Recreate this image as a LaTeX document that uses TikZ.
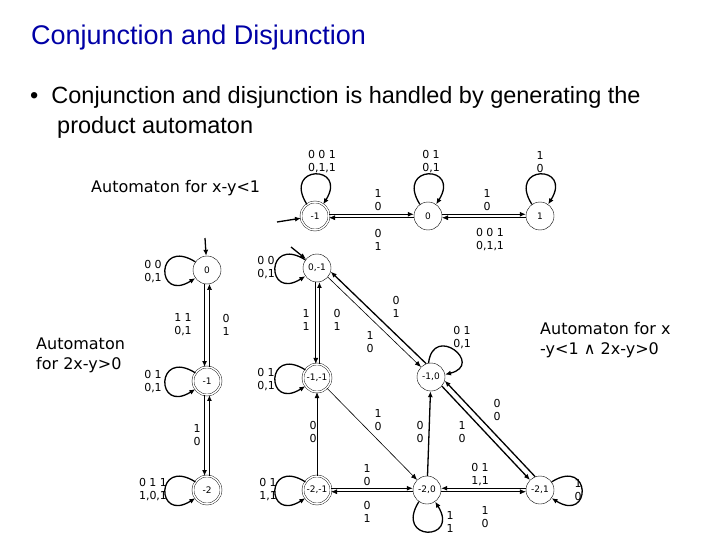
\documentclass[tikz,border=0pt]{standalone}
\usepackage{fontspec}
\setmainfont{Liberation Sans}
\newfontfamily\dv{DejaVu Sans}
\usetikzlibrary{arrows.meta}
\begin{document}
\begin{tikzpicture}[x=1pt,y=-1pt,
 st/.style={circle,draw,minimum size=28pt,inner sep=0pt,font=\dv\fontsize{9}{10}\selectfont},
 acc/.style={st,double,double distance=1.5pt},
 lb/.style={font=\dv\fontsize{11}{13}\selectfont,align=center,inner sep=0pt},
 tx/.style={font=\dv\fontsize{16}{20}\selectfont,align=left,inner sep=0pt,anchor=west},
 ar/.style={-{Latex[length=6pt,width=5pt]},line width=0.6pt},
 ab/.style={ar,line width=1.3pt}]
\useasboundingbox (0,0) rectangle (720,540);
\node[anchor=west,text=blue!65!black,font=\fontsize{27}{32}\selectfont,inner sep=0pt] (title) at (31,38) {Conjunction and Disjunction};
\node[anchor=west,font=\fontsize{23.5}{30}\selectfont,align=left,inner sep=0pt] (bul) at (30,112) {•\hspace{13pt}Conjunction and disjunction is handled by generating the\\\hspace{27pt}product automaton};
% top automaton
\node[acc] (a1) at (315,216) {-1};
\node[st] (a0) at (428,216) {0};
\node[st] (ap) at (540,216) {1};
\coordinate (ai) at (277,222);
\draw[ab] (ai) -- (a1);
\draw[ab] (a1.7) -- (a0.173); \draw[ar] (a0.187) -- (a1.353);
\draw[ab] (a0.7) -- (ap.173); \draw[ar] (ap.187) -- (a0.353);
\foreach \n in {a1,a0,ap} \draw[ab] (\n.125) .. controls +(-25,-40) and +(25,-40) .. (\n.55);
\node[lb] (l1) at (322,162) {0 0 1\\0,1,1};
\node[lb] (l2) at (431,162) {0 1\\0,1};
\node[lb] (l3) at (540,162) {1\\0};
\node[lb] (l4) at (378,200) {1\\0};
\node[lb] (l5) at (378,240) {0\\1};
\node[lb] (l6) at (487,200) {1\\0};
\node[lb] (l7) at (490,240) {0 0 1\\0,1,1};
\node[tx] (t1) at (91,188) {Automaton for x-y<1};
% left automaton
\node[st] (b0) at (207,270) {0};
\node[acc] (b1) at (207,381) {-1};
\node[acc] (b2) at (207,490) {-2};
\coordinate (bi) at (205,238);
\draw[ab] (bi) -- (b0);
\draw[ab] (b0.260) -- (b1.100); \draw[ar] (b1.80) -- (b0.280);
\draw[ab] (b1.260) -- (b2.100); \draw[ab] (b2.80) -- (b1.280);
\foreach \n in {b0,b1,b2} \draw[ab] (\n.145) .. controls +(-40,-25) and +(-40,25) .. (\n.215);
\node[lb] (m1) at (153,272) {0 0\\0,1};
\node[lb] (m2) at (153,382) {0 1\\0,1};
\node[lb] (m3) at (153,490) {0 1 1\\1,0,1};
\node[lb] (m4) at (183,325) {1 1\\0,1};
\node[lb] (m5) at (226,325) {0\\1};
\node[lb] (m6) at (197,435) {1\\0};
\node[tx] (t2) at (36,355) {Automaton\\for 2x-y>0};
% product
\node[st] (p1) at (317,268) {0,-1};
\node[acc] (p2) at (317,378) {-1,-1};
\node[acc] (p3) at (317,490) {-2,-1};
\node[st] (p4) at (431,377) {-1,0};
\node[st] (p5) at (427,490) {-2,0};
\node[st] (p6) at (540,490) {-2,1};
\coordinate (pi) at (291,247);
\draw[ab] (pi) -- (p1);
\foreach \n in {p1,p2,p3} \draw[ab] (\n.145) .. controls +(-40,-25) and +(-40,25) .. (\n.215);
\draw[ar] (p1.265) -- (p2.95); \draw[ab] (p2.80) -- (p1.280);
\draw[ar] (p3) -- (p2);
\draw[ar] (p1.320) -- (p4.135); \draw[ab] (p4.110) -- (p1.345);
\draw[ar] (p2) -- (p5);
\draw[ab] (p3.7) -- (p5.173); \draw[ar] (p5.187) -- (p3.353);
\draw[ab] (p5) -- (p4);
\draw[ab] (p4.320) -- (p6.135); \draw[ab] (p6.110) -- (p4.345);
\draw[ab] (p6.173) -- (p5.7); \draw[ar] (p5.353) -- (p6.187);
\draw[ab] (p4.100) .. controls +(5,-40) and +(40,-10) .. (p4.10);
\draw[ab] (p5.235) .. controls +(-25,40) and +(25,40) .. (p5.305);
\draw[ab] (p6.35) .. controls +(40,-25) and +(40,25) .. (p6.325);
\node[lb] (q1) at (266,268) {0 0\\0,1};
\node[lb] (q2) at (266,380) {0 1\\0,1};
\node[lb] (q3) at (268,490) {0 1\\1,1};
\node[lb] (q4) at (306,320) {1\\1};
\node[lb] (q5) at (337,320) {0\\1};
\node[lb] (q6) at (313,432) {0\\0};
\node[lb] (q7) at (370,342) {1\\0};
\node[lb] (q8) at (396,307) {0\\1};
\node[lb] (q9) at (378,420) {1\\0};
\node[lb] (q10) at (367,475) {1\\0};
\node[lb] (q11) at (367,512) {0\\1};
\node[lb] (q12) at (420,432) {0\\0};
\node[lb] (q13) at (462,432) {1\\0};
\node[lb] (q14) at (497,410) {0\\0};
\node[lb] (q15) at (480,475) {0 1\\1,1};
\node[lb] (q16) at (485,517) {1\\0};
\node[lb] (q17) at (462,338) {0 1\\0,1};
\node[lb] (q18) at (450,522) {1\\1};
\node[lb] (q19) at (578,490) {1\\0};
\node[tx] (t3) at (540,340) {Automaton for x\\-y<1 {\dv∧} 2x-y>0};
\end{tikzpicture}
\end{document}
